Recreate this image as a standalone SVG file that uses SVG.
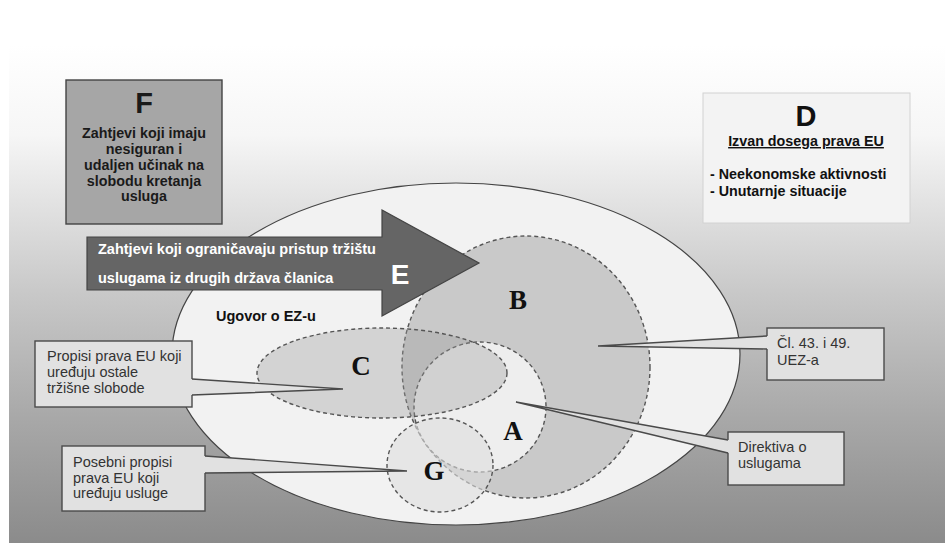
<svg xmlns="http://www.w3.org/2000/svg" width="945" height="543" viewBox="0 0 945 543">
<defs>
<linearGradient id="bg" x1="0" y1="0" x2="0" y2="1">
<stop offset="0" stop-color="#ffffff"/>
<stop offset="0.18" stop-color="#f6f6f6"/>
<stop offset="0.5" stop-color="#c8c8c8"/>
<stop offset="0.75" stop-color="#a8a8a8"/>
<stop offset="1" stop-color="#8b8b8b"/>
</linearGradient>
<style>
.sans{font-family:"Liberation Sans",Arial,sans-serif}
.bold{font-weight:bold}
.serif{font-family:"Liberation Serif","Times New Roman",serif;font-weight:bold;font-size:27px;fill:#111;text-anchor:middle}
.dash{stroke:#555;stroke-width:1.4;stroke-dasharray:4 3}
.cbox{fill:#e1e1e1;stroke:#4a4a4a;stroke-width:1.4}
.cfill{fill:#e1e1e1;stroke:none}
.cedge{fill:none;stroke:#4a4a4a;stroke-width:1.4}
.ctext{font-family:"Liberation Sans",Arial,sans-serif;font-size:14.5px;fill:#333}
</style>
</defs>
<rect x="0" y="0" width="945" height="543" fill="#ffffff"/>
<rect x="9" y="45" width="936" height="498" fill="url(#bg)"/>

<g id="node-F">
<rect x="66" y="80" width="156" height="144" fill="#a6a6a6" stroke="#444" stroke-width="1.4"/>
<g class="sans bold" fill="#1a1a1a" text-anchor="middle">
<text x="144" y="113" font-size="29">F</text>
<text x="144" y="138" font-size="14.3">Zahtjevi koji imaju</text>
<text x="144" y="154" font-size="14.3">nesiguran i</text>
<text x="144" y="170" font-size="14.3">udaljen učinak na</text>
<text x="144" y="186" font-size="14.3">slobodu kretanja</text>
<text x="144" y="201" font-size="14.3">usluga</text>
</g>
</g>

<g id="node-D">
<rect x="703" y="93" width="207" height="130" fill="#f3f3f3" stroke="#d2d2d2" stroke-width="1"/>
<g class="sans bold" fill="#111">
<text x="806" y="126" font-size="29" text-anchor="middle">D</text>
<text x="806" y="146" font-size="14.3" text-anchor="middle" text-decoration="underline">Izvan dosega prava EU</text>
<text x="710" y="179" font-size="14.3">- Neekonomske aktivnosti</text>
<text x="710" y="196" font-size="14.3">- Unutarnje situacije</text>
</g>
</g>

<g id="node-EZ">
<ellipse cx="456" cy="354" rx="284" ry="171" fill="#f2f2f2" stroke="#444" stroke-width="1.2"/>
<text x="216" y="321" class="sans bold" font-size="14.5" fill="#111">Ugovor o EZ-u</text>
</g>

<g id="node-B">
<ellipse cx="526" cy="367" rx="124" ry="131" fill="#c9c9c9" class="dash"/>
</g>
<g id="node-A">
<ellipse cx="480" cy="407" rx="66" ry="65" fill="#eeeeee" class="dash"/>
</g>
<g id="node-C">
<ellipse cx="382" cy="373" rx="125" ry="45" fill="#9c9c9c" fill-opacity="0.35" class="dash"/>
</g>
<g id="node-G">
<ellipse cx="440" cy="465" rx="53" ry="47" fill="#dedede" fill-opacity="0.6" class="dash"/>
</g>

<g id="node-E">
<polygon points="87,237 382,237 382,210 479,263 382,316 382,290 87,290" fill="#656565" stroke="#444" stroke-width="1.2"/>
<g class="sans bold" fill="#ffffff">
<text x="98" y="254" font-size="14.5">Zahtjevi koji ograničavaju pristup tržištu</text>
<text x="98" y="283" font-size="14.5">uslugama iz drugih država članica</text>
<text x="400" y="284" font-size="28" text-anchor="middle">E</text>
</g>
</g>

<g id="labels">
<text x="518" y="309" class="serif">B</text>
<text x="361" y="375" class="serif">C</text>
<text x="513" y="440" class="serif">A</text>
<text x="434" y="480" class="serif">G</text>
</g>

<g id="node-callout-C">
<rect x="35" y="341" width="157" height="66" class="cbox"/>
<text class="ctext"><tspan x="47" y="361">Propisi prava EU koji</tspan><tspan x="47" y="377">uređuju ostale</tspan><tspan x="47" y="393">tržišne slobode</tspan></text>
</g>
<g id="node-callout-G">
<rect x="62" y="446" width="143" height="65" class="cbox"/>
<text class="ctext"><tspan x="73" y="467">Posebni propisi</tspan><tspan x="73" y="483">prava EU koji</tspan><tspan x="73" y="498">uređuju usluge</tspan></text>
</g>
<g id="node-callout-B">
<rect x="767" y="328" width="117" height="52" class="cbox"/>
<text class="ctext"><tspan x="777" y="348">Čl. 43. i 49.</tspan><tspan x="777" y="365">UEZ-a</tspan></text>
</g>
<g id="node-callout-A">
<rect x="728" y="432" width="116" height="53" class="cbox"/>
<text class="ctext"><tspan x="738" y="452">Direktiva o</tspan><tspan x="738" y="468">uslugama</tspan></text>
</g>

<g id="connectors">
<polygon class="cfill" points="191,379 343,389 191,395"/>
<polyline class="cedge" points="192,379 343,389 192,395"/>
<polygon class="cfill" points="204,456 407,471 204,473"/>
<polyline class="cedge" points="205,456 407,471 205,473"/>
<polygon class="cfill" points="768,336 598,346 768,349"/>
<polyline class="cedge" points="767,336 598,346 767,349"/>
<polygon class="cfill" points="729,440 516,402 729,453"/>
<polyline class="cedge" points="728,440 516,402 728,453"/>
</g>
</svg>
